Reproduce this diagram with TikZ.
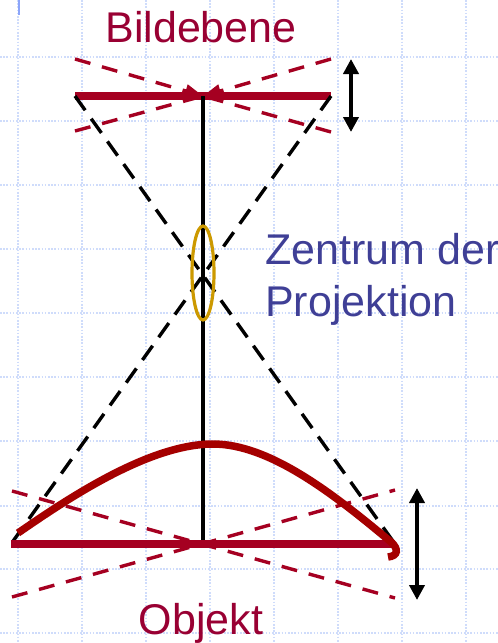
\documentclass[tikz,border=0pt]{standalone}
\usepackage{fontspec}
\setmainfont{Liberation Sans}
\usetikzlibrary{arrows.meta,shapes.geometric}
\definecolor{barred}{HTML}{A50021}
\definecolor{curvered}{HTML}{A50000}
\definecolor{labelred}{HTML}{990033}
\definecolor{labelblue}{HTML}{3F3F96}
\definecolor{lensgold}{HTML}{CC9900}
\definecolor{gridblue}{HTML}{CFDCFB}
\tikzset{
  gridline/.style={gridblue,line width=1.6pt,dash pattern=on 1.6pt off 1.6pt},
  axisline/.style={black,line width=3.2pt},
  rayline/.style={black,line width=3.4pt,dash pattern=on 17.5pt off 10.4pt},
  planebar/.style={barred,line width=7.5pt},
  tiltline/.style={barred,line width=3.4pt,dash pattern=on 16pt off 12pt},
  tilttip/.style={tiltline,-{Triangle[length=18pt,width=13pt]}},
  movearrow/.style={black,line width=4pt,{Triangle[length=15pt,width=15pt]}-{Triangle[length=15pt,width=15pt]}},
  lens/.style={draw=lensgold,line width=3.2pt,ellipse,minimum width=22pt,minimum height=94pt,inner sep=0pt},
  caption/.style={inner sep=0pt,font=\fontsize{43pt}{43pt}\selectfont},
  sidetext/.style={inner sep=0pt,align=left,anchor=base west,text=labelblue,font=\fontsize{43pt}{52pt}\selectfont}
}
\begin{document}
\begin{tikzpicture}[x=1pt,y=-1pt]
\useasboundingbox (0,0) rectangle (498,643);
\clip (0,0) rectangle (498,643);
\fill[white] (0,0) rectangle (498,643);
\foreach \gx in {18,82,146,210,274,338,402,466} \draw[gridline] (\gx,0) -- (\gx,643);
\foreach \gy in {57,121,185,249,313,377,441,506,569,633} \draw[gridline] (0,\gy) -- (498,\gy);
\draw[color={rgb,255:red,140;green,165;blue,250},line width=1.5pt] (19,0) -- (19,15);

\coordinate (tl) at (75,96);
\coordinate (tr) at (331,96);
\coordinate (tc) at (203,96);
\coordinate (bl) at (11,544);
\coordinate (br) at (395,544);
\coordinate (bc) at (203,544);
\coordinate (tul) at (75,59);
\coordinate (tur) at (331,59);
\coordinate (tll) at (75,131);
\coordinate (tlr) at (331,132);
\coordinate (bul) at (12,491);
\coordinate (bur) at (395,490);
\coordinate (bll) at (12,597);
\coordinate (blr) at (395,598);
\coordinate (m1a) at (351,59);
\coordinate (m1b) at (351,132);
\coordinate (m2a) at (417,488);
\coordinate (m2b) at (417,600);

\draw[planebar] (tl) -- (tr);
\draw[rayline] (tl) -- (br);
\draw[rayline] (tr) -- (bl);
\draw[axisline] (tc) -- (bc);
\node[lens] (lensnode) at (203,273) {};

\draw[tilttip] (tul) -- (tc);
\draw[tilttip] (tur) -- (tc);
\draw[tiltline] (tll) -- (tc);
\draw[tiltline] (tlr) -- (tc);
\draw[movearrow] (m1a) -- (m1b);

\draw[tiltline] (bul) -- (blr);
\draw[tiltline] (bll) -- (bur);
\draw[planebar] (bl) -- (br);
\draw[movearrow] (m2a) -- (m2b);
\draw[curvered,line width=7.5pt]
  (18,533) .. controls (70,497) and (150,444) .. (213,444)
  .. controls (270,444) and (335,495) .. (391,542)
  .. controls (399,549) and (398,556) .. (388,557);

\node[caption,text=labelred,anchor=base] (bild) at (201,42) {Bildebene};
\node[caption,text=labelred,anchor=base] (obj) at (201,634) {Objekt};
\node[sidetext] (zentrum) at (265,316) {Zentrum der\\Projektion};
\end{tikzpicture}
\end{document}
